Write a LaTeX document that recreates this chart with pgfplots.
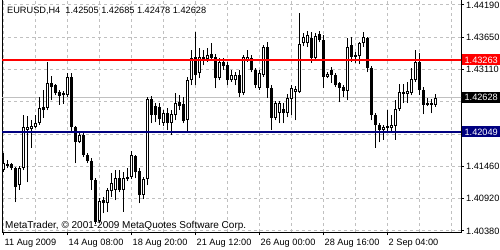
\documentclass[border=0pt]{standalone}
\usepackage{pgfplots}
\pgfplotsset{compat=1.18}
\usepackage{pgfplotstable}
\usepackage{fontspec}
\setmainfont{Liberation Sans}
\definecolor{gridc}{RGB}{192,192,192}
\definecolor{navyc}{RGB}{0,0,128}
\definecolor{redc}{RGB}{255,0,0}
\pgfplotstableread{
k o h l c
0 1.41408 1.41694 1.41374 1.41526
1 1.41475 1.41576 1.41441 1.41509
2 1.41509 1.41526 1.41408 1.41441
3 1.41441 1.41458 1.40868 1.41121
4 1.41155 1.41475 1.41071 1.41441
5 1.41441 1.42335 1.41408 1.42133
6 1.42082 1.42318 1.41205 1.42133
7 1.42099 1.42251 1.41779 1.42150
8 1.42133 1.42335 1.42116 1.42200
9 1.42200 1.42639 1.42167 1.42453
10 1.42470 1.42757 1.42285 1.42419
11 1.42453 1.43229 1.42419 1.42875
12 1.42875 1.42993 1.42588 1.42807
13 1.42841 1.42858 1.42672 1.42706
14 1.42723 1.42757 1.42504 1.42656
15 1.42672 1.42740 1.42521 1.42706
16 1.42672 1.43043 1.42639 1.42976
17 1.42976 1.43043 1.42032 1.42133
18 1.42133 1.42150 1.41526 1.41880
19 1.41880 1.42032 1.41863 1.41998
20 1.41998 1.42032 1.41627 1.41661
21 1.41661 1.41694 1.41526 1.41560
22 1.41560 1.41610 1.41071 1.41239
23 1.41239 1.41273 1.40497 1.40531
24 1.40548 1.40936 1.40514 1.40885
25 1.40902 1.40953 1.40683 1.40851
26 1.40851 1.41104 1.40700 1.41071
27 1.41054 1.41357 1.40953 1.41189
28 1.41071 1.41408 1.40902 1.41273
29 1.41273 1.41408 1.41037 1.41071
30 1.41071 1.41374 1.40700 1.41273
31 1.41290 1.41441 1.41222 1.41256
32 1.41290 1.41728 1.41256 1.41661
33 1.41644 1.41661 1.41273 1.41374
34 1.41391 1.41441 1.40851 1.40986
35 1.40986 1.41290 1.40919 1.41256
36 1.41256 1.42639 1.41155 1.42605
37 1.42605 1.42656 1.42200 1.42335
38 1.42487 1.42537 1.42217 1.42335
39 1.42470 1.42537 1.42167 1.42268
40 1.42200 1.42419 1.42150 1.42369
41 1.42369 1.42453 1.42082 1.42200
42 1.42200 1.42419 1.41998 1.42352
43 1.42335 1.42706 1.42251 1.42537
44 1.42554 1.42672 1.42419 1.42487
45 1.42521 1.42639 1.42200 1.42234
46 1.42251 1.42976 1.42049 1.42925
47 1.42925 1.43431 1.42841 1.43296
48 1.43313 1.43735 1.42841 1.43010
49 1.43043 1.43465 1.42959 1.43313
50 1.43313 1.43431 1.43178 1.43246
51 1.43279 1.43465 1.43229 1.43347
52 1.43364 1.43549 1.43262 1.43296
53 1.43313 1.43364 1.42790 1.42959
54 1.42959 1.43296 1.42925 1.43229
55 1.43229 1.43296 1.43094 1.43161
56 1.43178 1.43229 1.42841 1.42925
57 1.42925 1.43094 1.42892 1.43010
58 1.42925 1.43060 1.42841 1.43010
59 1.43010 1.43094 1.42639 1.42706
60 1.42706 1.43347 1.42672 1.43313
61 1.43262 1.43431 1.43229 1.43313
62 1.43296 1.43347 1.43060 1.43094
63 1.43094 1.43128 1.42790 1.42841
64 1.42790 1.43094 1.42757 1.43043
65 1.43010 1.43515 1.42976 1.43482
66 1.43482 1.43566 1.42622 1.42790
67 1.42790 1.42841 1.42082 1.42285
68 1.42285 1.42571 1.42251 1.42537
69 1.42369 1.42571 1.42200 1.42537
70 1.42436 1.42537 1.42200 1.42369
71 1.42369 1.42689 1.42301 1.42622
72 1.42605 1.42841 1.42335 1.42790
73 1.42723 1.42824 1.42251 1.42774
74 1.42723 1.44055 1.42706 1.43532
75 1.43549 1.43718 1.43498 1.43650
76 1.43549 1.43751 1.43482 1.43684
77 1.43633 1.43735 1.43212 1.43296
78 1.43296 1.43718 1.43262 1.43667
79 1.43701 1.43751 1.43566 1.43600
80 1.43600 1.43684 1.42790 1.42976
81 1.42976 1.43060 1.42959 1.43026
82 1.43094 1.43144 1.42875 1.43010
83 1.43010 1.43043 1.42807 1.42841
84 1.42875 1.42892 1.42554 1.42790
85 1.42807 1.42841 1.42639 1.42740
86 1.42740 1.43633 1.42588 1.43482
87 1.43515 1.43650 1.43229 1.43313
88 1.43347 1.43397 1.43212 1.43313
89 1.43330 1.43566 1.43195 1.43549
90 1.43549 1.43735 1.43482 1.43650
91 1.43633 1.43650 1.43060 1.43128
92 1.43128 1.43161 1.42251 1.42335
93 1.42335 1.42369 1.41779 1.42167
94 1.42167 1.42200 1.41880 1.42082
95 1.42082 1.42167 1.41914 1.42133
96 1.42116 1.42419 1.42066 1.42150
97 1.42116 1.42335 1.42066 1.42167
98 1.42150 1.42588 1.41914 1.42436
99 1.42436 1.42858 1.42403 1.42723
100 1.42689 1.42858 1.42537 1.42723
101 1.42689 1.42892 1.42537 1.42740
102 1.42706 1.43128 1.42672 1.42942
103 1.42925 1.43431 1.42892 1.43229
104 1.43229 1.43380 1.42672 1.42757
105 1.42757 1.42807 1.42352 1.42504
106 1.42504 1.42622 1.42487 1.42537
107 1.42504 1.42605 1.42369 1.42537
108 1.42505 1.42685 1.42478 1.42628
}\ohlc
\newcommand\lblfont{\fontsize{9.2bp}{11bp}\selectfont}
\pgfplotsset{candle/.style={only marks, mark=*, mark size=0pt, mark options={draw=none, fill=none}, forget plot}}
\begin{document}
\begin{tikzpicture}
\begin{axis}[
  at={(2bp,18bp)}, anchor=south west,
  scale only axis, width=459bp, height=233bp,
  xmin=-0.375, xmax=114.375,
  ymin=1.403628, ymax=1.44291,
  clip mode=individual,
  axis line style={black, line width=1bp},
  xtick={0,16,32,48,64,80,96},
  xticklabels={11 Aug 2009, 14 Aug 08:00, 18 Aug 20:00, 21 Aug 12:00, 26 Aug 00:00, 28 Aug 16:00, 2 Sep 04:00},
  minor xtick={8,24,40,56,72,88,104,112},
  ytick={1.40380,1.409243,1.414686,1.420129,1.425571,1.431014,1.436457,1.44190},
  yticklabels={1.40380,1.40920,1.41460,{},{},1.43110,1.43650,1.44190},
  xtick pos=bottom, ytick pos=right, yticklabel pos=right,
  tick align=outside, major tick length=3bp, minor tick length=0pt,
  tick style={black, line width=1bp},
  grid=both,
  major grid style={gridc, dash pattern=on 3bp off 3bp, line width=1bp},
  minor grid style={gridc, dash pattern=on 3bp off 3bp, line width=1bp},
  xticklabel style={font=\lblfont, anchor=base west, inner sep=0pt, xshift=1bp, yshift=-10bp},
  yticklabel style={font=\lblfont, anchor=west, inner sep=0pt, xshift=2bp},
]
% bid line
\addplot[gridc, line width=1bp, forget plot] coordinates {(-1,1.42628) (116,1.42628)};
% wicks
\addplot[candle,
  error bars/.cd, y dir=plus, y explicit, error mark=none,
  error bar style={line width=1bp, black}]
  table[x=k, y=l, y error expr={\thisrow{h}-\thisrow{l}}] {\ohlc};
% bodies (outline / black fill)
\addplot[candle,
  error bars/.cd, y dir=plus, y explicit, error mark=none,
  error bar style={line width=3bp, black}]
  table[x=k, y expr={min(\thisrow{o},\thisrow{c})}, y error expr={max(abs(\thisrow{c}-\thisrow{o}),0.00017)}] {\ohlc};
% white interiors of bullish candles
\addplot[candle,
  error bars/.cd, y dir=plus, y explicit, error mark=none,
  error bar style={line width=1bp, white}]
  table[x=k, y expr={min(\thisrow{o},\thisrow{c})+0.00017}, y error expr={max(\thisrow{c}-\thisrow{o}-0.00034,0)}] {\ohlc};
% level lines
\addplot[redc, line width=2bp, forget plot] coordinates {(-1,1.43263) (116,1.43263)};
\addplot[navyc, line width=2bp, forget plot] coordinates {(-1,1.42049) (116,1.42049)};
% price boxes
\node[fill=redc, text=white, anchor=west, inner sep=0pt, minimum width=39bp, minimum height=11bp, font=\lblfont] at (axis cs:114.375,1.43263) [xshift=0.5bp] {1.43263};
\node[fill=black, text=white, anchor=west, inner sep=0pt, minimum width=39bp, minimum height=11bp, font=\lblfont] at (axis cs:114.375,1.42628) [xshift=0.5bp] {1.42628};
\node[fill=navyc, text=white, anchor=west, inner sep=0pt, minimum width=39bp, minimum height=11bp, font=\lblfont] at (axis cs:114.375,1.42049) [xshift=0.5bp] {1.42049};
% texts
\node[anchor=base west, inner sep=0pt, font=\lblfont] at (rel axis cs:0,1) [xshift=5bp, yshift=-15bp] {EURUSD,H4\ \ 1.42505 1.42685 1.42478 1.42628};
\node[anchor=base west, inner sep=0pt, font=\fontsize{10bp}{12bp}\selectfont] at (rel axis cs:0,0) [xshift=3bp, yshift=4bp] {MetaTrader, © 2001-2009 MetaQuotes Software Corp.};
\end{axis}
\pgfresetboundingbox
\path[use as bounding box] (0,0) rectangle (500bp,250bp);
\end{tikzpicture}
\end{document}
